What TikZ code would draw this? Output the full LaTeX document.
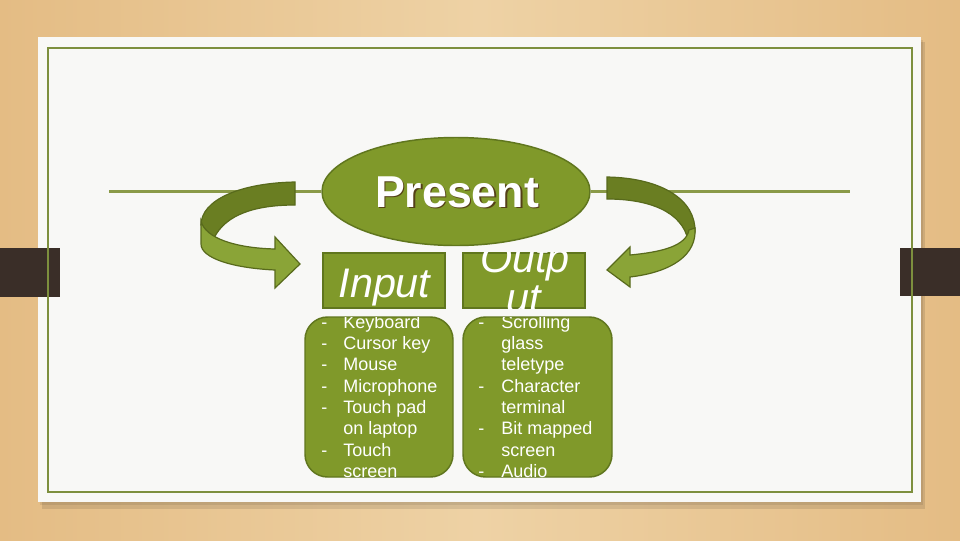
\documentclass[tikz,border=0pt]{standalone}
\usepackage{fontspec}
\setmainfont{Liberation Sans}
\usetikzlibrary{shapes.geometric}
\definecolor{woodside}{RGB}{228,188,132}
\definecolor{woodmid}{RGB}{238,210,165}
\definecolor{card}{RGB}{248,248,246}
\definecolor{tab}{RGB}{58,46,40}
\definecolor{frame}{RGB}{125,143,62}
\definecolor{rulecol}{RGB}{138,154,72}
\definecolor{olivefill}{RGB}{128,153,42}
\definecolor{oliveedge}{RGB}{96,118,30}
\definecolor{banddark}{RGB}{106,126,34}
\definecolor{bandlight}{RGB}{138,164,55}
\definecolor{bandedge}{RGB}{88,106,28}
\definecolor{shade}{RGB}{84,64,24}

\begin{document}
\begin{tikzpicture}[x=0.75pt, y=-0.75pt]
\tikzstyle{slab} = [rectangle, draw = oliveedge, fill = olivefill, line width = 1.1pt, inner sep = 0pt]
\tikzstyle{headbox} = [slab, minimum width = 91.5pt, minimum height = 41.25pt]
\tikzstyle{listbox} = [slab, rounded corners = 17pt, minimum height = 120pt]
\tikzstyle{headtext} = [inner sep = 0pt, anchor = base, text = white, font = \fontsize{31}{36}\itshape]
\tikzstyle{items} = [inner sep = 0pt, anchor = base west, text = white, font = \fontsize{13.5}{16}\selectfont]
\tikzstyle{bandback} = [fill = banddark, draw = bandedge, line width = 0.9pt]
\tikzstyle{bandfront} = [fill = bandlight, draw = bandedge, line width = 0.9pt]
\useasboundingbox (0,0) rectangle (960,540);
% -----------------------------------
% Slide backdrop
\shade[left color = woodside, right color = woodside, middle color = woodmid] (0,0) rectangle (960,540);
\fill[black, opacity = 0.10] (42,42) rectangle (925,509);
\fill[black, opacity = 0.08] (40,40) rectangle (923,505);
\fill[card] (38,37) rectangle (921,502);
\fill[tab] (0,248) rectangle (60,297);
\fill[tab] (900,248) rectangle (960,296);
\draw[frame, line width = 1.9pt] (48,48) rectangle (912,492);

% -----------------------------------
% Title
\node[ellipse, draw = oliveedge, fill = olivefill, line width = 1.1pt,
      minimum width = 201pt, minimum height = 81pt] (pres) at (456,191.5) {};
\coordinate (lineL) at (109,191.5);
\coordinate (lineR) at (850,191.5);
\draw[rulecol, line width = 1.6pt] (lineL) -- (pres.west);
\draw[rulecol, line width = 1.6pt] (pres.east) -- (lineR);
\node[inner sep = 0pt, text = shade, font = \fontsize{33.5}{40}\bfseries] (presshade) at (458.5,193.5) {Present};
\node[inner sep = 0pt, text = white, font = \fontsize{33.5}{40}\bfseries] (prestext) at (457,192) {Present};

% -----------------------------------
% Curved arrows
\filldraw[bandback] (295,182) .. controls (240,183) and (201,200) .. (201,225)
  -- (214,238) .. controls (226,214) and (256,205) .. (295,205) -- cycle;
\filldraw[bandfront] (201,221) .. controls (205,238) and (235,248) .. (275,249)
  -- (275,237) -- (300,264) -- (275,288) -- (275,270)
  .. controls (232,268) and (201,258) .. (201,244) -- cycle;

\filldraw[bandback] (607,177) .. controls (662,178) and (696,200) .. (695,232)
  -- (688,240) .. controls (682,212) and (650,199) .. (607,199) -- cycle;
\filldraw[bandfront] (695,228) .. controls (697,255) and (672,272) .. (630,277)
  -- (630,287) -- (607,270) -- (630,247) -- (630,255)
  .. controls (662,252) and (686,246) .. (689,230) -- cycle;

% -----------------------------------
% Input / Output headers
\node[headbox] (inhead) at (384,280.5) {};
\node[headbox] (outhead) at (524,280.5) {};
\node[headtext] (intitle) at (384.5,297) {Input};
\begin{scope}
\clip (outhead.south west) rectangle (outhead.north east);
\node[headtext] (outtitle) at (525,272) {Outp};
\node[headtext] (outtitle2) at (524,312) {ut};
\end{scope}

% -----------------------------------
% Device lists
\node[listbox, minimum width = 111pt] (inlist) at (379,397) {};
\node[listbox, minimum width = 111.75pt] (outlist) at (537.5,397) {};

\begin{scope}
\clip[rounded corners = 17pt] (inlist.south west) rectangle (inlist.north east);
\node[items] (inputs) at (321,328) {\begin{tabular}[t]{@{}p{16.5pt}@{}l@{}}
- & Keyboard\\
- & Cursor key\\
- & Mouse\\
- & Microphone\\
- & Touch pad\\
  & on laptop\\
- & Touch\\
  & screen
\end{tabular}};
\end{scope}

\begin{scope}
\clip[rounded corners = 17pt] (outlist.south west) rectangle (outlist.north east);
\node[items] (outputs) at (478,328) {\begin{tabular}[t]{@{}p{17.25pt}@{}l@{}}
- & Scrolling\\
  & glass\\
  & teletype\\
- & Character\\
  & terminal\\
- & Bit mapped\\
  & screen\\
- & Audio
\end{tabular}};
\end{scope}
% -----------------------------------
\end{tikzpicture}
\end{document}
